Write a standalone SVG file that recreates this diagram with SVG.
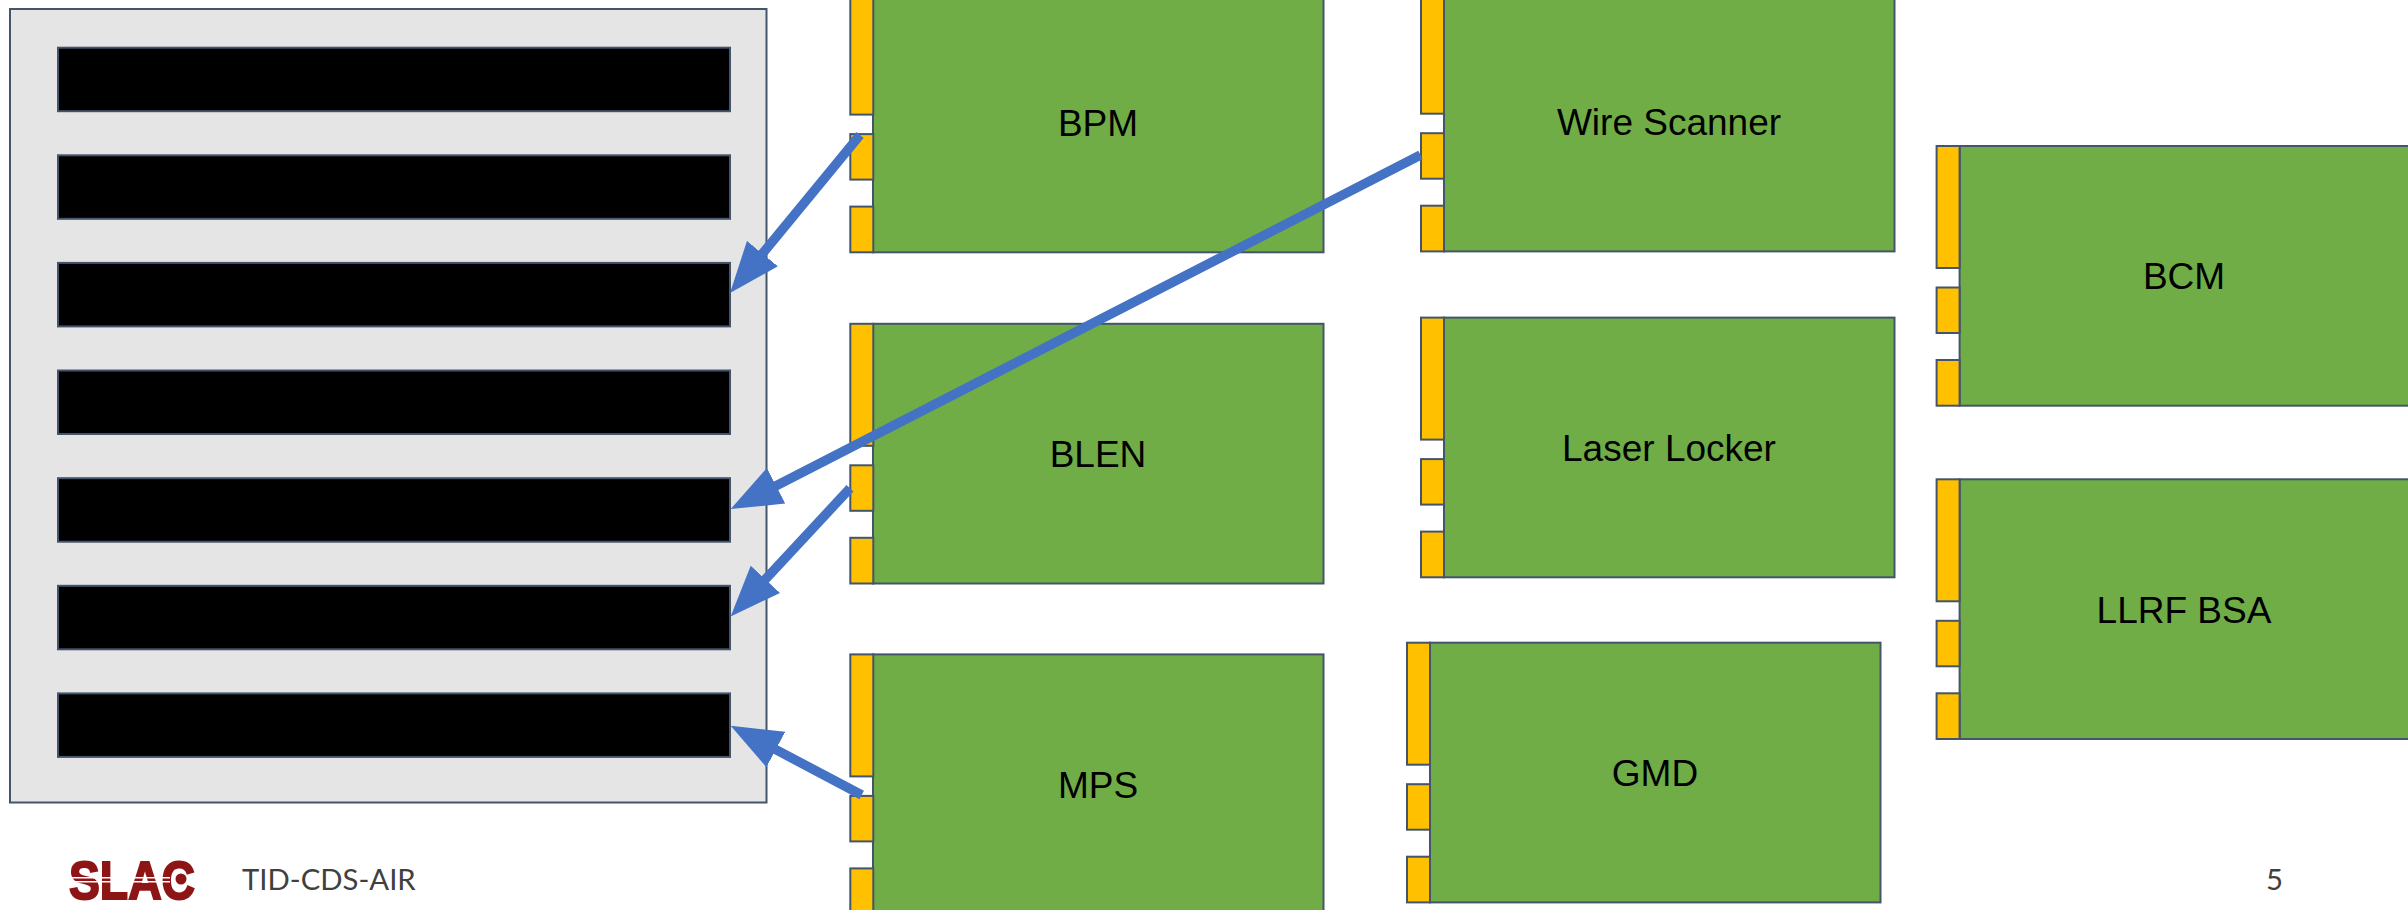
<svg xmlns="http://www.w3.org/2000/svg" width="2408" height="910" viewBox="0 0 2408 910">
<style>
.s{stroke:#44546A;stroke-width:2}
.panel{fill:#E5E5E5}
.bar{fill:#000}
.body{fill:#70AD47}
.port{fill:#FFC000}
.lbl{font-family:"Liberation Sans",Arial,sans-serif;font-size:37px;fill:#000;text-anchor:middle}
.foot{font-family:Lato,"Open Sans",sans-serif;font-size:29.300px;fill:#404040}
.conn{stroke:#4472C4;stroke-width:9.500;fill:none;marker-end:url(#ah)}
</style>
<defs>
<marker id="ah" markerUnits="userSpaceOnUse" markerWidth="52" markerHeight="42" refX="1" refY="21" orient="auto"><polygon points="0,1 51,21 0,41" fill="#4472C4"/></marker>
<g id="ports"><rect class="s port" x="0" y="0" width="23" height="122"/><rect class="s port" x="0" y="141.500" width="23" height="45.500"/><rect class="s port" x="0" y="214" width="23" height="45.700"/></g>
</defs>
<rect width="2408" height="910" fill="#fff"/>
<g id="panel">
<rect class="s panel" x="10" y="9" width="756.500" height="793.500"/>
<rect class="s bar" x="58" y="47.700" width="672" height="63.500"/>
<rect class="s bar" x="58" y="155.300" width="672" height="63.500"/>
<rect class="s bar" x="58" y="262.900" width="672" height="63.500"/>
<rect class="s bar" x="58" y="370.500" width="672" height="63.500"/>
<rect class="s bar" x="58" y="478.200" width="672" height="63.500"/>
<rect class="s bar" x="58" y="585.800" width="672" height="63.500"/>
<rect class="s bar" x="58" y="693.400" width="672" height="63.500"/>
</g>
<g id="bpm"><rect class="s body" x="873" y="-7.400" width="450.500" height="259.700"/><use href="#ports" x="850.300" y="-7.400"/><text class="lbl" x="1098" y="136">BPM</text></g>
<g id="blen"><rect class="s body" x="873" y="323.800" width="450.500" height="259.700"/><use href="#ports" x="850.300" y="323.800"/><text class="lbl" x="1098" y="467">BLEN</text></g>
<g id="mps"><rect class="s body" x="873" y="654.400" width="450.500" height="259.700"/><use href="#ports" x="850.300" y="654.400"/><text class="lbl" x="1098" y="798">MPS</text></g>
<g id="wire-scanner"><rect class="s body" x="1444" y="-8.300" width="450.500" height="259.700"/><use href="#ports" x="1421" y="-8.300"/><text class="lbl" x="1669" y="135">Wire Scanner</text></g>
<g id="laser-locker"><rect class="s body" x="1444" y="317.600" width="450.500" height="259.700"/><use href="#ports" x="1421" y="317.600"/><text class="lbl" x="1669" y="461">Laser Locker</text></g>
<g id="gmd"><rect class="s body" x="1430" y="642.700" width="450.500" height="259.700"/><use href="#ports" x="1407" y="642.700"/><text class="lbl" x="1655" y="786">GMD</text></g>
<g id="bcm"><rect class="s body" x="1959.600" y="146" width="450" height="259.700"/><use href="#ports" x="1936.600" y="146"/><text class="lbl" x="2184" y="289">BCM</text></g>
<g id="llrf-bsa"><rect class="s body" x="1959.600" y="479.300" width="450" height="259.700"/><use href="#ports" x="1936.600" y="479.300"/><text class="lbl" x="2184" y="623">LLRF BSA</text></g>
<g id="connectors">
<path class="conn" d="M860 135L761.800 254.400"/>
<path class="conn" d="M1420.500 155L775.200 486.200"/>
<path class="conn" d="M850 488.300L764.700 580"/>
<path class="conn" d="M861.700 795L774.900 749.100"/>
</g>
<g id="footer">
<text x="69" y="899" font-family="Liberation Sans,sans-serif" font-weight="700" font-size="54" fill="#8E1516" stroke="#8E1516" stroke-width="2" textLength="126" lengthAdjust="spacingAndGlyphs">SLAC</text>
<rect x="70" y="877" width="100" height="1.500" fill="#fff"/>
<rect x="70" y="881" width="100" height="1.500" fill="#fff"/>
<circle cx="181" cy="879" r="5.500" fill="#8E1516"/>
<text class="foot" x="242" y="890">TID-CDS-AIR</text>
<text class="foot" x="2266" y="890">5</text>
</g>
</svg>
